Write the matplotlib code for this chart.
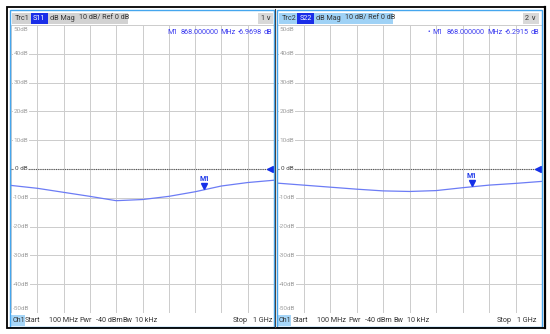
import numpy as np
import matplotlib.pyplot as plt
import matplotlib.patches as mpatches
from matplotlib import transforms

plt.rcParams['font.family'] = ['Roboto', 'DejaVu Sans']

# values
freq = [100, 190, 280, 370, 460, 550, 640, 730, 820, 910, 1000]  # MHz
s11 = [-5.7, -6.7, -8.1, -9.5, -11.0, -10.6, -9.5, -7.9, -5.9, -4.7, -3.9]
s22 = [-4.9, -5.6, -6.3, -7.0, -7.6, -7.8, -7.5, -6.5, -5.6, -5.0, -4.3]
marker_f = 762  # where M1 sits on screen
db_ticks = [50, 40, 30, 20, 10, 0, -10, -20, -30, -40, -50]
db_labels = ['50dB', '40dB', '30dB', '20dB', '10dB', '0 dB',
             '-10dB', '-20dB', '-30dB', '-40dB', '-50dB']

W, H = 550, 334
fig = plt.figure(figsize=(W / 100, H / 100), dpi=100)

trace_col = '#6c7cf5'
mk_col = '#1530e8'
txt_col = '#333333'


def px_rect(x0, y0, x1, y1):
    return [x0 / W, 1 - y1 / H, (x1 - x0) / W, (y1 - y0) / H]


def panel(rect, vals):
    ax = fig.add_axes(rect)
    ax.set_xlim(100, 1000)
    ax.set_ylim(-50, 50)
    ax.set_xticks(np.linspace(100, 1000, 11))
    ax.set_yticks(db_ticks)
    ax.grid(color='#cccccc', lw=0.7)
    ax.tick_params(length=0, labelleft=False, labelbottom=False)
    for s in ax.spines.values():
        s.set_visible(False)
    ax.axhline(0, color='#555555', lw=0.8, ls=(0, (1, 1)), zorder=2)
    ax.plot(freq, vals, color=trace_col, lw=0.9, zorder=3)
    # reference arrow at right edge
    ax.plot([0.985], [0], marker='<', color=mk_col, ms=4.5,
            transform=ax.get_yaxis_transform(), clip_on=False, zorder=4)
    # marker M1
    mval = np.interp(marker_f, freq, vals)
    tr = transforms.offset_copy(ax.transData, fig=fig, x=0, y=2.5, units='points')
    ax.plot([marker_f], [mval], marker='v', color=mk_col, ms=4, transform=tr, zorder=5)
    ax.text(marker_f, mval + 2.3, 'M1', color=mk_col, fontsize=5, ha='center',
            va='bottom', fontweight='bold', zorder=5)
    # dB labels inside the grid
    for t, lab in zip(db_ticks, db_labels):
        y = t
        if t == 50:
            y = 48.4
        if t == -50:
            y = -48.6
        ax.text(0.038, y, lab, transform=ax.get_yaxis_transform(), ha='center',
                va='center', fontsize=4.6,
                color='#444444' if t == 0 else '#a0a0a0',
                bbox=dict(fc='white', ec='none', pad=0.4), zorder=4)
    return ax


ax1 = panel(px_rect(11, 25, 274, 313), s11)
ax2 = panel(px_rect(277, 25, 542, 313), s22)

# overlay in pixel coordinates for frames, header and footer
ov = fig.add_axes([0, 0, 1, 1])
ov.set_xlim(0, W)
ov.set_ylim(H, 0)
ov.axis('off')
ov.patch.set_alpha(0)
ov.set_zorder(10)


def box(x0, y0, x1, y1, fc):
    ov.add_patch(mpatches.Rectangle((x0, y0), x1 - x0, y1 - y0, fc=fc, ec='none'))


def txt(x, y, s, col=txt_col, fs=5.2, ha='left', **kw):
    ov.text(x, y, s, color=col, fontsize=fs, ha=ha, va='center', **kw)


# header left
box(12, 13, 128, 23.5, '#d2d2d2')
box(31, 13, 48, 23.5, '#1a2ee8')
txt(15, 18.3, 'Trc1')
txt(33, 18.3, 'S11', col='white')
txt(50, 18.3, 'dB Mag')
txt(79, 18.3, '10 dB/ Ref 0 dB')
box(258, 13, 273, 23.5, '#d8d8d8')
txt(260, 18.3, '1')
txt(265, 18.3, '\u2228')

# header right
box(279, 13, 393, 23.5, '#9fd2f6')
box(297, 13, 314, 23.5, '#1a2ee8')
txt(282, 18.3, 'Trc2')
txt(300, 18.3, 'S22', col='white')
txt(316, 18.3, 'dB Mag')
txt(345, 18.3, '10 dB/ Ref 0 dB')
box(523, 13, 539, 23.5, '#d8d8d8')
txt(525, 18.3, '2')
txt(530, 18.3, '\u2228')

# marker readouts
rd = '#3b3bf0'
for x, s in [(167, 'M1'), (181, '868.000000'), (220, 'MHz'), (238, '-6.9698'), (264, 'dB')]:
    txt(x, 32, s, col=rd, fs=5.2)
for x, s in [(428, '\u2022'), (432, 'M1'), (447, '868.000000'), (487, 'MHz'), (505, '-6.2915'), (531, 'dB')]:
    txt(x, 32, s, col=rd, fs=5.2)

# footers
for x0, items in [(11, [(25, 'Start'), (49, '100 MHz'), (79, 'Pwr'), (95.5, '-40 dBm'),
                        (122, 'Bw'), (135, '10 kHz'), (233, 'Stop'), (253, '1 GHz')]),
                  (277, [(293, 'Start'), (317, '100 MHz'), (348, 'Pwr'), (365, '-40 dBm'),
                         (393, 'Bw'), (407, '10 kHz'), (497, 'Stop'), (517, '1 GHz')])]:
    box(x0, 315, x0 + 14, 325.5, '#a6d6f8')
    txt(x0 + 1.5, 320.3, 'Ch1')
    for x, s in items:
        txt(x, 320.3, s)

# frames
ov.add_patch(mpatches.Rectangle((10, 10), 264, 316.5, fill=False, ec='#45a6ee', lw=1.0))
ov.add_patch(mpatches.Rectangle((276.5, 10), 265.5, 316.5, fill=False, ec='#45a6ee', lw=1.0))
ov.plot([275.2, 275.2], [9, 327], color='#444444', lw=0.8)
ov.add_patch(mpatches.Rectangle((7, 7), 538, 321, fill=False, ec='black', lw=1.3))
ov.plot([544.5, 544.5], [7, 328], color='black', lw=1.6)

fig.savefig('out.png', dpi=100)
